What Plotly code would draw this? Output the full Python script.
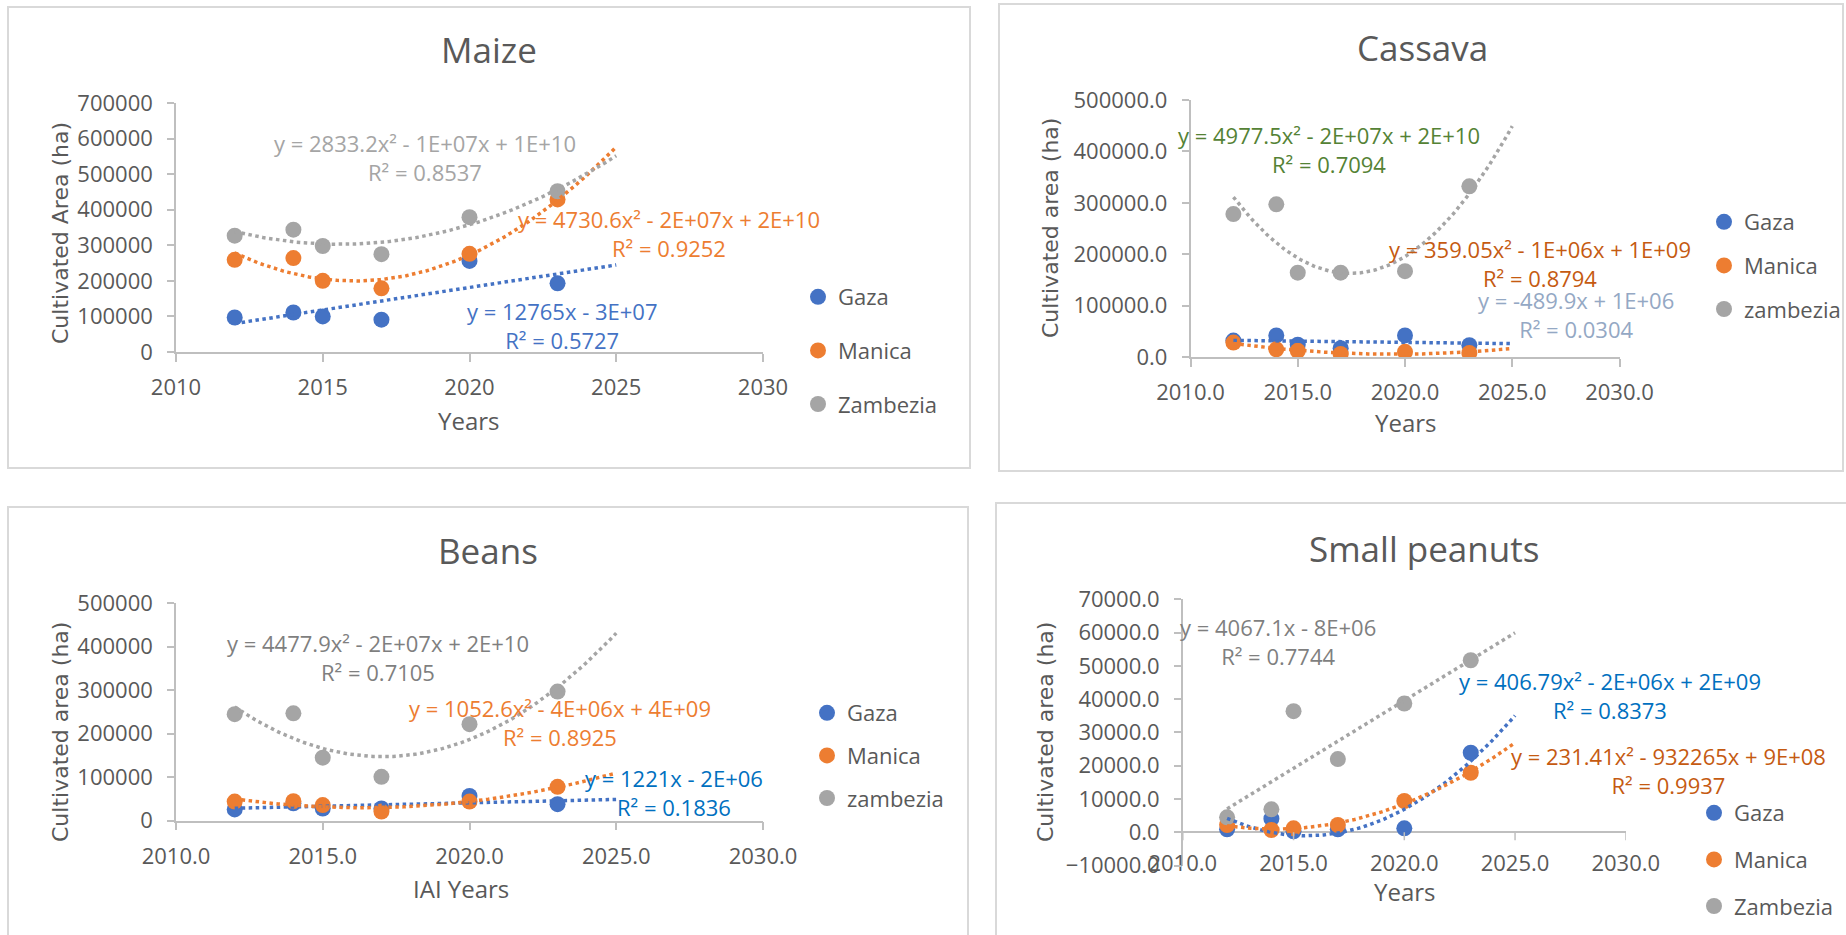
import numpy as np
import plotly.graph_objects as go

W, H = 1846, 935

# ---------------- data ----------------
years = [2012, 2014, 2015, 2017, 2020, 2023]
region_names = ["Gaza", "Manica", "Zambezia"]

maize_gaza = [97000, 111000, 100000, 91000, 256000, 193000]
maize_manica = [259000, 264000, 200000, 179000, 276000, 429000]
maize_zambezia = [327000, 344000, 298000, 275000, 379000, 452000]

cassava_gaza = [32000, 42000, 24000, 17000, 42000, 23000]
cassava_manica = [28000, 15000, 12000, 6000, 10000, 8000]
cassava_zambezia = [278000, 297000, 164000, 164000, 167000, 332000]

beans_gaza = [26000, 40000, 28000, 28000, 57000, 38000]
beans_manica = [44000, 45000, 36000, 21000, 44000, 78000]
beans_zambezia = [245000, 247000, 145000, 101000, 222000, 297000]

peanut_gaza = [900, 4100, 300, 900, 1200, 23900]
peanut_manica = [2200, 700, 1200, 2200, 9400, 17900]
peanut_zambezia = [4500, 6900, 36400, 22000, 38700, 51700]

titles = ["Maize", "Cassava", "Beans", "Small peanuts"]
legend_labels = [
    ["Gaza", "Manica", "Zambezia"],
    ["Gaza", "Manica", "zambezia"],
    ["Gaza", "Manica", "zambezia"],
    ["Gaza", "Manica", "Zambezia"],
]
x_titles = ["Years", "Years", "IAI Years", "Years"]
y_titles = ["Cultivated Area (ha)", "Cultivated area (ha)", "Cultivated area (ha)", "Cultivated area (ha)"]

# trendline equations as printed on the chart (Gaza, Manica, Zambezia)
equations = [
    ["y = 12765x - 3E+07<br>R² = 0.5727",
     "y = 4730.6x² - 2E+07x + 2E+10<br>R² = 0.9252",
     "y = 2833.2x² - 1E+07x + 1E+10<br>R² = 0.8537"],
    ["y = -489.9x + 1E+06<br>R² = 0.0304",
     "y = 359.05x² - 1E+06x + 1E+09<br>R² = 0.8794",
     "y = 4977.5x² - 2E+07x + 2E+10<br>R² = 0.7094"],
    ["y = 1221x - 2E+06<br>R² = 0.1836",
     "y = 1052.6x² - 4E+06x + 4E+09<br>R² = 0.8925",
     "y = 4477.9x² - 2E+07x + 2E+10<br>R² = 0.7105"],
    ["y = 406.79x² - 2E+06x + 2E+09<br>R² = 0.8373",
     "y = 231.41x² - 932265x + 9E+08<br>R² = 0.9937",
     "y = 4067.1x - 8E+06<br>R² = 0.7744"],
]
trend_degrees = [[1, 2, 2], [1, 2, 2], [1, 2, 2], [2, 2, 1]]
trend_end_year = 2025

x_ticks = [2010, 2015, 2020, 2025, 2030]
y_ticks = [
    [0, 100000, 200000, 300000, 400000, 500000, 600000, 700000],
    [0, 100000, 200000, 300000, 400000, 500000],
    [0, 100000, 200000, 300000, 400000, 500000],
    [-10000, 0, 10000, 20000, 30000, 40000, 50000, 60000, 70000],
]

panel_series = [
    [maize_gaza, maize_manica, maize_zambezia],
    [cassava_gaza, cassava_manica, cassava_zambezia],
    [beans_gaza, beans_manica, beans_zambezia],
    [peanut_gaza, peanut_manica, peanut_zambezia],
]

# ---------------- styling ----------------
series_colors = ["#4472C4", "#ED7D31", "#A5A5A5"]
eq_colors = [
    ["#4472C4", "#ED7D31", "#A5A5A5"],
    ["#94A8C4", "#C55A11", "#548235"],
    ["#0070C0", "#ED7D31", "#7F7F7F"],
    ["#0070C0", "#C55A11", "#7F7F7F"],
]
TXT = "#595959"
AX = "#BFBFBF"
FONT = "Open Sans"


def px(x, y):
    return x / W, 1 - y / H


# plot-area pixel boxes (left, top, right, bottom)
boxes = [
    (176, 103, 763, 352),
    (1190.5, 100, 1619.5, 357),
    (176, 603.3, 763, 820.7),
    (1182.8, 599.3, 1625.8, 865.6),
]
x_fmt = ["d", ".1f", ".1f", ".1f"]
y_fmt = ["d", ".1f", "d", ".1f"]

# panel frames
frames = [(8, 7, 970, 468), (999, 4, 1843, 471), (8, 507, 968, 945), (996, 503, 1850, 945)]
title_pos = [(489, 50), (1422, 47), (488, 550), (1424, 548)]
xtitle_pos = [(468, 420), (1405, 422), (461, 888), (1404, 891)]
ytitle_pos = [(60, 233), (1050, 228), (60, 732), (1045, 732)]
eq_pos = [
    [(562, 325), (669, 233), (425, 158)],
    [(1576, 314), (1540, 263), (1329, 149)],
    [(674, 792), (560, 722), (378, 657)],
    [(1610, 695), (1668, 770), (1278, 641)],
]
legend_pos = [(819, 294, 22), (1725, 219, 12), (828, 710, 11), (1715, 810, 15)]


def trend(xs, ys, deg, x_end):
    xs = np.asarray(xs, float)
    ys = np.asarray(ys, float)
    x0 = xs.mean()
    c = np.polyfit(xs - x0, ys, deg)
    xt = np.linspace(xs.min(), x_end, 150)
    return xt, np.polyval(c, xt - x0)


def note(text, pos, size, color, family=FONT, angle=0):
    ax_, ay_ = px(*pos)
    return dict(text=text, x=ax_, y=ay_, xref="paper", yref="paper", xanchor="center",
                yanchor="middle", showarrow=False, align="center", textangle=angle,
                font=dict(family=family, size=size, color=color))


fig = go.Figure()
layout = dict(
    width=W, height=H, autosize=False,
    margin=dict(l=0, r=0, t=0, b=0, pad=0, autoexpand=False),
    paper_bgcolor="white", plot_bgcolor="white", showlegend=True,
    font=dict(family=FONT, color=TXT),
)
annotations = []
shapes = []

for p in range(4):
    sfx = "" if p == 0 else str(p + 1)
    xa, ya = "x" + sfx, "y" + sfx
    lg = "legend" if p == 0 else "legend" + str(p + 1)
    for k in range(3):
        fig.add_trace(go.Scatter(
            x=years, y=panel_series[p][k], mode="markers", name=legend_labels[p][k],
            marker=dict(color=series_colors[k], size=16),
            xaxis=xa, yaxis=ya, legend=lg, legendgroup=f"p{p}s{k}", hoverinfo="x+y+name",
        ))
    for k in range(3):
        xt, yt = trend(years, panel_series[p][k], trend_degrees[p][k], trend_end_year)
        fig.add_trace(go.Scatter(
            x=xt, y=yt, mode="lines", showlegend=False,
            line=dict(color=series_colors[k], width=3.5, dash="dot"),
            xaxis=xa, yaxis=ya, legend=lg, legendgroup=f"p{p}s{k}", hoverinfo="skip",
        ))

    l, t, r, b = boxes[p]
    yt_vals = y_ticks[p]
    xaxis = dict(
        domain=[l / W, r / W], range=[x_ticks[0], x_ticks[-1]], tickvals=x_ticks,
        tickformat=x_fmt[p], showgrid=False, zeroline=False, automargin=False,
        showline=(p != 3), linecolor=AX, linewidth=1.5,
        ticks="outside" if p != 3 else "", ticklen=8, tickcolor=AX, tickwidth=1.5,
        tickfont=dict(family=FONT, size=22, color=TXT), ticklabelstandoff=7,
        anchor=ya, fixedrange=True,
    )
    yaxis = dict(
        domain=[1 - b / H, 1 - t / H], range=[yt_vals[0], yt_vals[-1]], tickvals=yt_vals,
        tickformat=y_fmt[p], showgrid=False, zeroline=(p == 3), zerolinecolor=AX, zerolinewidth=1.5,
        showline=True, linecolor=AX, linewidth=1.5, automargin=False,
        ticks="outside", ticklen=7, tickcolor=AX, tickwidth=1.5,
        tickfont=dict(family=FONT, size=22, color=TXT), ticklabelstandoff=10,
        anchor=xa, fixedrange=True,
    )
    if p == 3:
        xaxis["anchor"] = "free"
        xaxis["position"] = 1 - 848 / H
        xaxis["ticklabelstandoff"] = 0
        span = yt_vals[-1] - yt_vals[0]
        for tv in x_ticks:
            shapes.append(dict(type="line", xref=xa, yref=ya, x0=tv, x1=tv, y0=0,
                               y1=-span * 8 / (b - t), line=dict(color=AX, width=1.5)))
    layout["xaxis" + sfx] = xaxis
    layout["yaxis" + sfx] = yaxis

    lx, ly, gap = legend_pos[p]
    lxp, lyp = px(lx - 21, ly - 18)
    layout[lg] = dict(
        x=lxp, y=lyp, xanchor="left", yanchor="top", bgcolor="rgba(0,0,0,0)",
        font=dict(family=FONT, size=22, color=TXT), tracegroupgap=gap, itemsizing="trace",
    )

    fx0, fy0, fx1, fy1 = frames[p]
    a0, b0 = px(fx0, fy1)
    a1, b1 = px(fx1, fy0)
    shapes.append(dict(type="rect", xref="paper", yref="paper", x0=a0, y0=b0, x1=a1, y1=b1,
                       line=dict(color="#D9D9D9", width=2), layer="below"))

    annotations.append(note(titles[p], title_pos[p], 35, TXT))
    annotations.append(note(x_titles[p], xtitle_pos[p], 24, TXT))
    annotations.append(note(y_titles[p], ytitle_pos[p], 22, TXT, family="DejaVu Sans", angle=-90))
    for k in range(3):
        annotations.append(note(equations[p][k], eq_pos[p][k], 22, eq_colors[p][k]))

layout["annotations"] = annotations
layout["shapes"] = shapes
fig.update_layout(**layout)

post = (
    "document.documentElement.style.margin='0';"
    "document.documentElement.style.overflow='hidden';"
    "document.body.style.margin='0';"
    "document.body.style.padding='0';"
    "document.body.style.overflow='hidden';"
)
fig.write_html("out.html", post_script=post, config={"displayModeBar": False})
